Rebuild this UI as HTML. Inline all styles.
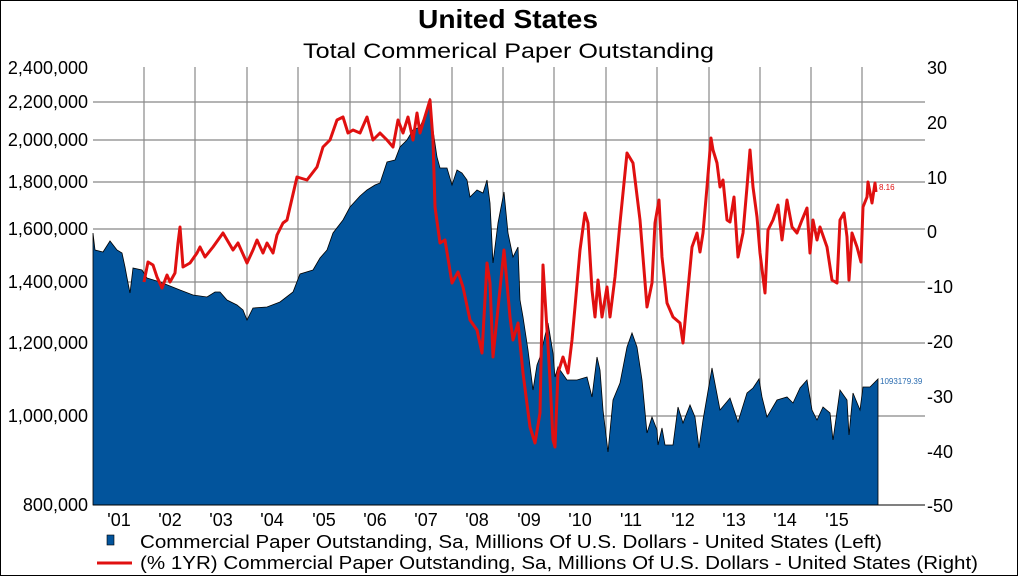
<!DOCTYPE html>
<html><head><meta charset="utf-8"><style>
html,body{margin:0;padding:0;background:#fff}
svg{display:block}
text{font-family:"Liberation Sans",Arial,sans-serif;fill:#000}
</style></head><body>
<svg width="1018" height="576" viewBox="0 0 1018 576" xmlns="http://www.w3.org/2000/svg">
<rect x="0.5" y="0.5" width="1017" height="575" fill="#fff" stroke="#000" stroke-width="1"/>
<text x="418" y="28" font-size="26" font-weight="bold" textLength="180" lengthAdjust="spacingAndGlyphs">United States</text>
<text x="303" y="58" font-size="21" textLength="411" lengthAdjust="spacingAndGlyphs">Total Commerical Paper Outstanding</text>
<g stroke="#888" stroke-width="1.2">
<line x1="93" y1="102" x2="925" y2="102"/><line x1="93" y1="140" x2="925" y2="140"/><line x1="93" y1="182" x2="925" y2="182"/><line x1="93" y1="229" x2="925" y2="229"/><line x1="93" y1="282" x2="925" y2="282"/><line x1="93" y1="343" x2="925" y2="343"/><line x1="93" y1="416" x2="925" y2="416"/>
<line x1="144" y1="67" x2="144" y2="505"/><line x1="195" y1="67" x2="195" y2="505"/><line x1="247" y1="67" x2="247" y2="505"/><line x1="298" y1="67" x2="298" y2="505"/><line x1="350" y1="67" x2="350" y2="505"/><line x1="400" y1="67" x2="400" y2="505"/><line x1="452" y1="67" x2="452" y2="505"/><line x1="503" y1="67" x2="503" y2="505"/><line x1="554" y1="67" x2="554" y2="505"/><line x1="606" y1="67" x2="606" y2="505"/><line x1="657" y1="67" x2="657" y2="505"/><line x1="709" y1="67" x2="709" y2="505"/><line x1="760" y1="67" x2="760" y2="505"/><line x1="811" y1="67" x2="811" y2="505"/><line x1="862" y1="67" x2="862" y2="505"/>
</g>
<polygon fill="#02549c" stroke="#000" stroke-width="0.8" points="93,505 93,233 95,250 103,252 110,241 117,250 122,253 125,267 128,283 130,293 133,268 142,270 147,278 160,282 180,290 193,295 207,297 215,292 220,292 227,300 237,305 243,310 247,320 253,308 267,307 280,302 293,292 300,274 313,270 320,258 327,250 333,233 343,220 350,207 360,196 367,190 375,185 380,183 387,162 395,160 400,147 407,140 413,130 420,127 425,115 430,98 433,130 437,157 440,168 447,168 452,185 457,170 462,173 467,180 470,197 477,190 483,193 487,180 490,203 493,263 498,223 504,192 508,233 513,257 518,247 520,300 523,317 528,350 533,390 537,365 540,357 548,323 553,353 555,377 558,367 567,380 577,380 587,377 592,397 597,357 600,370 603,410 608,452 613,400 620,383 627,347 632,333 637,347 642,380 647,433 652,417 657,430 658,445 662,428 665,445 673,445 678,407 683,423 690,405 695,417 699,448 703,420 712,368 720,410 730,398 738,422 747,393 753,388 759,379 762,397 767,417 777,400 787,397 793,403 800,388 807,380 812,410 817,420 823,407 830,413 833,440 840,390 847,400 849,435 853,393 860,410 863,387 870,387 878,379 878,505"/>
<polyline fill="none" stroke="#e01010" stroke-width="3" stroke-linejoin="round" points="144,282 148,262 153,265 157,277 162,288 167,275 170,282 175,273 178,243 180,227 183,267 190,263 197,253 200,247 205,257 213,247 223,233 233,250 238,243 247,263 253,250 257,240 263,253 267,243 273,253 277,235 283,223 287,220 297,177 307,180 317,167 323,147 330,140 337,120 343,117 348,133 353,130 360,133 367,117 373,140 380,133 387,140 393,147 398,120 403,133 408,117 413,140 417,113 420,133 430,100 433,140 435,207 440,243 445,240 452,283 458,272 463,287 470,320 477,330 482,353 487,263 490,283 493,357 504,250 510,317 513,340 518,323 523,373 530,427 535,443 540,413 543,265 547,330 550,380 553,440 555,447 558,373 563,357 568,373 572,340 575,307 580,250 585,213 588,223 592,290 595,317 598,280 602,317 607,287 610,317 615,277 620,223 627,153 633,163 640,220 647,307 652,283 655,223 659,200 662,257 667,303 673,317 680,323 683,343 687,300 692,247 697,233 700,252 703,233 707,187 711,138 713,150 717,163 720,187 723,180 727,220 730,222 734,197 738,257 743,233 747,187 750,150 753,187 757,217 760,253 765,293 768,230 773,220 778,205 782,240 787,200 792,227 797,233 802,220 807,208 810,253 813,220 817,240 820,227 827,247 832,280 837,283 840,220 844,213 847,237 849,280 852,233 857,247 861,262 863,207 867,197 868,182 872,203 875,183 876,192"/>
<line x1="93" y1="505" x2="925" y2="505" stroke="#000" stroke-width="1"/>
<text x="880" y="384" font-size="8" style="fill:#2a6cb0">1093179.39</text>
<text x="879" y="190" font-size="8" style="fill:#e01010">8.16</text>
<g font-size="18" text-anchor="end">
<text x="88" y="74">2,400,000</text><text x="88" y="108">2,200,000</text><text x="88" y="146">2,000,000</text><text x="88" y="188">1,800,000</text><text x="88" y="235">1,600,000</text><text x="88" y="288">1,400,000</text><text x="88" y="349">1,200,000</text><text x="88" y="422">1,000,000</text><text x="88" y="511">800,000</text>
</g>
<g font-size="18">
<text x="927" y="74">30</text><text x="927" y="129">20</text><text x="927" y="184">10</text><text x="927" y="238">0</text><text x="927" y="293">-10</text><text x="927" y="348">-20</text><text x="927" y="403">-30</text><text x="927" y="458">-40</text><text x="927" y="512">-50</text>
</g>
<g font-size="18" text-anchor="middle">
<text x="119" y="526">'01</text><text x="170" y="526">'02</text><text x="221" y="526">'03</text><text x="272" y="526">'04</text><text x="324" y="526">'05</text><text x="375" y="526">'06</text><text x="426" y="526">'07</text><text x="477" y="526">'08</text><text x="529" y="526">'09</text><text x="580" y="526">'10</text><text x="631" y="526">'11</text><text x="683" y="526">'12</text><text x="734" y="526">'13</text><text x="785" y="526">'14</text><text x="837" y="526">'15</text>
</g>
<rect x="107" y="535" width="7" height="10" fill="#02549c" stroke="#000" stroke-width="0.6"/>
<line x1="97" y1="563" x2="132" y2="563" stroke="#e01010" stroke-width="3"/>
<text x="140" y="548" font-size="18" textLength="742" lengthAdjust="spacingAndGlyphs">Commercial Paper Outstanding, Sa, Millions Of U.S. Dollars - United States  (Left)</text>
<text x="140" y="569" font-size="18" textLength="838" lengthAdjust="spacingAndGlyphs">(% 1YR) Commercial Paper Outstanding, Sa, Millions Of U.S. Dollars - United States  (Right)</text>
</svg>
</body></html>
